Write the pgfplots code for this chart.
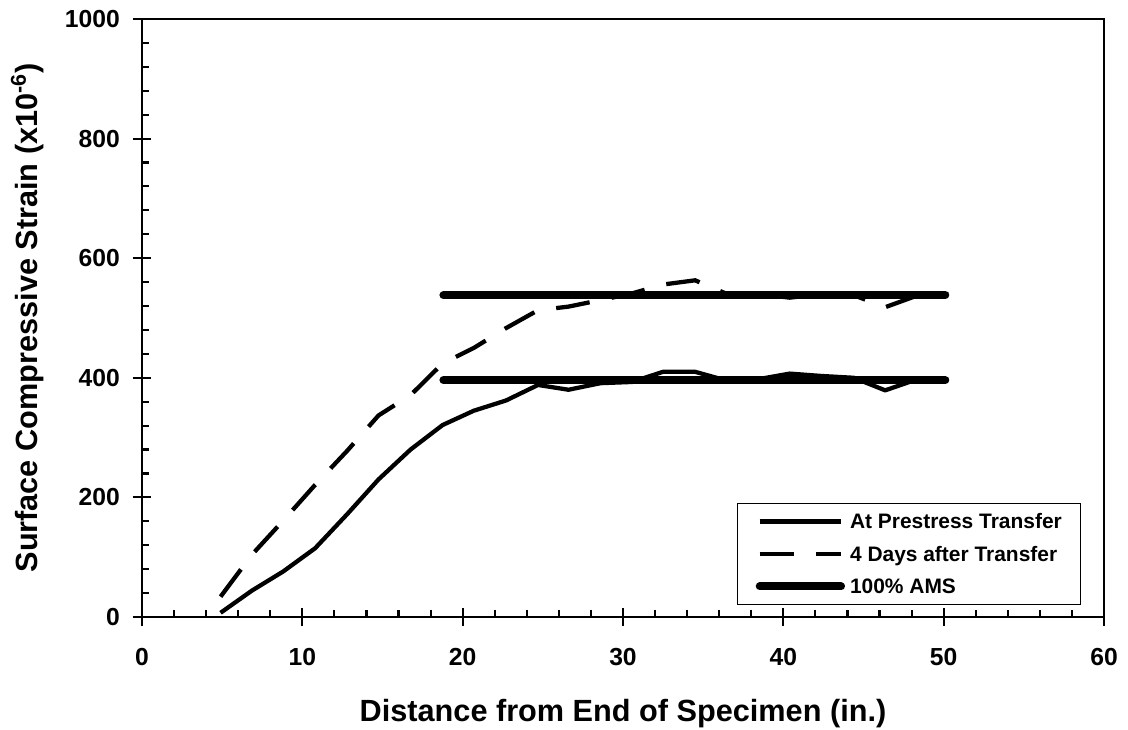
\documentclass[border=0pt]{standalone}
\usepackage{pgfplots}
\pgfplotsset{compat=1.18}
\usepackage{fontspec}
\setmainfont{Liberation Sans}
\pgfplotstableread{
x y
4.9 7
6.85 44
8.8 76
10.8 115
12.8 172
14.75 230
16.75 280
18.75 321
20.7 345
22.7 362
24.7 388
26.6 380
28.6 391
30.55 393
32.5 410
34.5 410
36.5 395
38.5 398
40.4 407
42.4 403
44.4 400
46.35 379
48.3 397
50.3 397
}\transfer
\pgfplotstableread{
x y
4.9 34
6.85 104
8.8 161
10.8 221
12.8 278
14.75 337
16.75 371
18.75 424
20.7 450
22.7 483
24.7 513
26.6 519
28.6 530
30.55 541
32.5 556
34.5 563
36.5 540
38.5 540
40.4 534
42.4 540
44.4 538
46.35 518
48.3 537
50.3 540
}\fourdays
\begin{document}
\begin{tikzpicture}
\begin{axis}[
  scale only axis,
  width=721.5pt, height=448.5pt,
  xmin=0, xmax=60, ymin=0, ymax=1000,
  clip=false,
  xtick={0,10,...,60}, ytick={0,200,...,1000},
  minor x tick num=4, minor y tick num=4,
  tick pos=left,
  tick align=inside,
  major tick length=6.75pt,
  minor tick length=5.25pt,
  tick style={black, line width=1.6pt},
  extra x ticks={0,10,...,60}, extra y ticks={0,200,...,1000},
  extra x tick labels={}, extra y tick labels={},
  extra tick style={tick align=outside, major tick length=6.75pt},
  axis line style={line width=1pt},
  /pgf/number format/assume math mode=true,
  /pgf/number format/1000 sep={},
  ticklabel style={font=\fontsize{18.5}{20}\selectfont\bfseries, inner sep=0pt},
  xticklabel style={anchor=north, yshift=-23.25pt},
  yticklabel style={anchor=east, xshift=-16.5pt},
  xlabel={Distance from End of Specimen (in.)},
  ylabel={Surface Compressive Strain (x10\textsuperscript{-6})},
  label style={font=\fontsize{23}{26}\selectfont\bfseries},
  xlabel style={at={(axis description cs:0.5,-0.17559)}, anchor=base},
  ylabel style={at={(axis description cs:-0.10811,0.5)}, anchor=base},
  legend cell align=left,
  legend image code/.code={\draw[#1] (0pt,0pt) -- (61pt,0pt);},
  legend style={at={(1,0)}, anchor=south east, xshift=-17.25pt, yshift=9pt,
    draw=black, line width=0.75pt, fill=white,
    font=\fontsize{15.7}{18}\selectfont\bfseries,
    inner xsep=14pt, inner ysep=6pt, row sep=9.4pt,
    nodes={inner sep=0pt, text height=13pt, text depth=2pt},
    /tikz/every odd column/.append style={column sep=3.75pt}},
]
\draw[line width=2pt] (rel axis cs:0,1) -- (rel axis cs:0,0) -- (rel axis cs:1,0);
\addplot[black, line width=3.2pt, line join=round] table[x=x,y=y] {\transfer};
\addlegendentry{At Prestress Transfer}
\addplot[black, line width=3.2pt, dash pattern=on 25.5pt off 16.8pt] table[x=x,y=y] {\fourdays};
\addlegendentry{4 Days after Transfer}
\addplot[black, line width=6pt, line cap=round] coordinates {(18.8,538) (50.1,538)};
\addlegendentry{100\% AMS}
\addplot[black, line width=6pt, line cap=round, forget plot] coordinates {(18.8,396) (50.1,396)};
\end{axis}
\pgfresetboundingbox
\path[use as bounding box] (-106.5pt,-84.75pt) rectangle (739.5pt,462.75pt);
\end{tikzpicture}
\end{document}
